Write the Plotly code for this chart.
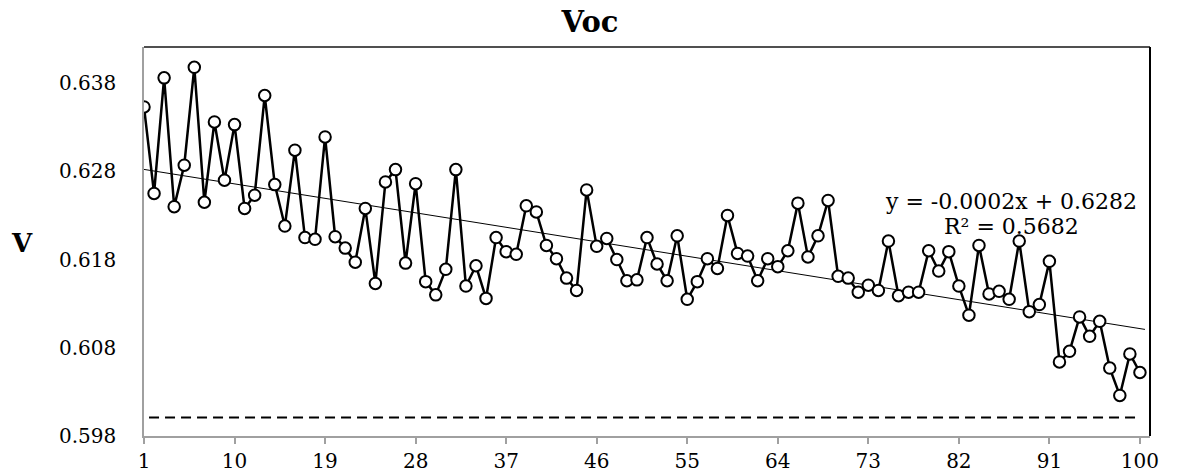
import numpy as np
import plotly.graph_objects as go

x_vals = list(range(1, 101))
voc = [
    0.6353, 0.6255, 0.6386, 0.6240, 0.6287, 0.6398, 0.6245, 0.6336, 0.6270, 0.6333,
    0.6238, 0.6253, 0.6366, 0.6265, 0.6218, 0.6304, 0.6205, 0.6203, 0.6319, 0.6206,
    0.6193, 0.6177, 0.6238, 0.6153, 0.6268, 0.6282, 0.6176, 0.6266, 0.6155, 0.6140,
    0.6169, 0.6282, 0.6150, 0.6173, 0.6136, 0.6205, 0.6189, 0.6186, 0.6241, 0.6234,
    0.6196, 0.6181, 0.6159, 0.6145, 0.6259, 0.6195, 0.6204, 0.6180, 0.6156, 0.6157,
    0.6205, 0.6175, 0.6156, 0.6207, 0.6135, 0.6155, 0.6181, 0.6170, 0.6230, 0.6187,
    0.6184, 0.6156, 0.6181, 0.6172, 0.6190, 0.6244, 0.6183, 0.6207, 0.6247, 0.6161,
    0.6159, 0.6143, 0.6151, 0.6145, 0.6201, 0.6139, 0.6143, 0.6143, 0.6190, 0.6167,
    0.6189, 0.6150, 0.6117, 0.6196, 0.6141, 0.6144, 0.6135, 0.6201, 0.6121, 0.6129,
    0.6178, 0.6064, 0.6076, 0.6115, 0.6093, 0.6110, 0.6057, 0.6026, 0.6073, 0.6052,
]
x_ticks = [1, 10, 19, 28, 37, 46, 55, 64, 73, 82, 91, 100]
y_ticks = [0.598, 0.608, 0.618, 0.628, 0.638]
y_tick_labels = ["0.598", "0.608", "0.618", "0.628", "0.638"]
limit_value = 0.6001
limit_x = [1.5, 100]
trend_x = [1, 100.5]
eq_text = "y = -0.0002x + 0.6282"
r2_text = "R² = 0.5682"
title_text = "<b>Voc</b>"
y_label = "<b>V</b>"

slope, intercept = np.polyfit(x_vals, voc, 1)
trend_y = [slope * t + intercept for t in trend_x]

FONT = "DejaVu Serif"
W, H = 1170, 467  # page body adds an 8px margin

fig = go.Figure()
fig.add_trace(go.Scatter(
    x=limit_x, y=[limit_value] * len(limit_x), mode="lines",
    line=dict(color="black", width=2, dash="10px,6px"), hoverinfo="skip"))
fig.add_trace(go.Scatter(
    x=trend_x, y=trend_y, mode="lines",
    line=dict(color="black", width=1), hoverinfo="skip"))
fig.add_trace(go.Scatter(
    x=x_vals, y=voc, mode="lines+markers",
    line=dict(color="black", width=2.5),
    marker=dict(symbol="circle", size=11.5, color="white",
                line=dict(color="black", width=2))))

fig.update_layout(
    width=W, height=H,
    margin=dict(l=136, r=28, t=39, b=39, autoexpand=False),
    paper_bgcolor="white", plot_bgcolor="white",
    showlegend=False,
    title=dict(text=title_text, x=582 / W, xanchor="center",
               y=1 - 4 / H, yanchor="top", yref="container", pad=dict(t=0, b=0),
               font=dict(family=FONT, size=29, color="black")),
    xaxis=dict(range=[1, 101], tickvals=x_ticks, showgrid=False, zeroline=False,
               automargin=False,
               showline=True, linecolor="#a0a0a0", linewidth=1.5,
               ticks="outside", ticklen=6, tickcolor="#a0a0a0", tickwidth=1.5,
               tickfont=dict(family=FONT, size=20, color="black")),
    yaxis=dict(range=[0.598, 0.6421], tickvals=y_ticks, ticktext=y_tick_labels,
               showgrid=False, zeroline=False, automargin=False,
               showline=True, linecolor="#a0a0a0", linewidth=1.5,
               ticks="", ticklabelstandoff=22,
               tickfont=dict(family=FONT, size=20, color="black")),
    font=dict(family=FONT, color="black"),
)

fig.add_shape(type="line", xref="paper", yref="paper", x0=0, x1=1, y0=1, y1=1,
              line=dict(color="#505050", width=2))
fig.add_shape(type="line", xref="paper", yref="paper", x0=1, x1=1, y0=0, y1=1,
              line=dict(color="black", width=2))

fig.add_annotation(text=eq_text, xref="paper", yref="paper",
                   x=(1011 - 144) / 1006, y=(436 - 201) / 389,
                   xanchor="center", yanchor="middle", showarrow=False,
                   font=dict(family=FONT, size=22, color="black"))
fig.add_annotation(text=r2_text, xref="paper", yref="paper",
                   x=(1011 - 144) / 1006, y=(436 - 226) / 389,
                   xanchor="center", yanchor="middle", showarrow=False,
                   font=dict(family=FONT, size=22, color="black"))
fig.add_annotation(text=y_label, xref="paper", yref="paper",
                   x=(22 - 144) / 1006, y=(436 - 243) / 389,
                   xanchor="center", yanchor="middle", showarrow=False,
                   font=dict(family=FONT, size=26, color="black"))

fig.write_html("out.html")
